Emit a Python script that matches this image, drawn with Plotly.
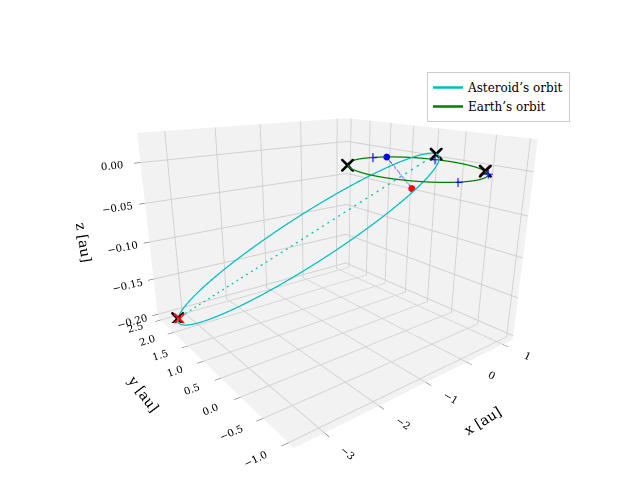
import numpy as np
import plotly.graph_objects as go

# asteroid orbital elements (estimated)
a_ast = 2.15
e_ast = 0.85
inc_deg = 2.88
node_deg = -125.0
argp_deg = 90.0

# marker positions [au]
black_x = [0.26, -3.26, -0.72, 0.72]
black_y = [-0.18, 2.28, 0.70, -0.70]
black_z = [0.016, -0.2, 0.0, 0.0]
red_x = [-3.24, 0.74]
red_y = [2.26, -0.68]
red_z = [-0.2, 0.0]
plus_x = [0.2, 0.95, -0.35, 0.55]
plus_y = [0.98, 0.3, -0.94, -0.84]
plus_z = [0.0, 0.0, 0.0, 0.0]
blue_dot = [0.45, 0.89, 0.0]
red_dot = [-0.45, -0.3, -0.015]


def orbit_xyz(a, e, inc, node, argp, nu):
    r = a * (1 - e**2) / (1 + e * np.cos(nu))
    i, O, w = np.radians(inc), np.radians(node), np.radians(argp)
    u = w + nu
    x = r * (np.cos(O) * np.cos(u) - np.sin(O) * np.sin(u) * np.cos(i))
    y = r * (np.sin(O) * np.cos(u) + np.cos(O) * np.sin(u) * np.cos(i))
    z = r * np.sin(u) * np.sin(i)
    return x, y, z


nu = np.linspace(0, 2 * np.pi, 400)
ax, ay, az = orbit_xyz(a_ast, e_ast, inc_deg, node_deg, argp_deg, nu)
px, py, pz = orbit_xyz(a_ast, e_ast, inc_deg, node_deg, argp_deg, np.array([0.0, np.pi]))

fig = go.Figure()
fig.add_trace(go.Scatter3d(x=ax, y=ay, z=az, mode="lines", line=dict(color="#00bfbf", width=2.5),
                           name="Asteroid’s orbit"))
fig.add_trace(go.Scatter3d(x=np.cos(nu), y=np.sin(nu), z=0 * nu, mode="lines",
                           line=dict(color="green", width=2.5), name="Earth’s orbit"))
fig.add_trace(go.Scatter3d(x=px, y=py, z=pz, mode="lines", line=dict(color="#00bfbf", width=2.5, dash="dash"),
                           showlegend=False))
fig.add_trace(go.Scatter3d(x=[blue_dot[0], red_dot[0]], y=[blue_dot[1], red_dot[1]], z=[blue_dot[2], red_dot[2]],
                           mode="lines", line=dict(color="blue", width=2.5, dash="dash"), showlegend=False))
fig.add_trace(go.Scatter3d(x=red_x, y=red_y, z=red_z, mode="markers",
                           marker=dict(symbol="x", color="red", size=2.5), showlegend=False))
fig.add_trace(go.Scatter3d(x=black_x, y=black_y, z=black_z, mode="markers",
                           marker=dict(symbol="x", color="black", size=3), showlegend=False))
fig.add_trace(go.Scatter3d(x=plus_x, y=plus_y, z=plus_z, mode="markers",
                           marker=dict(symbol="cross", color="blue", size=5), showlegend=False))
fig.add_trace(go.Scatter3d(x=[blue_dot[0], red_dot[0]], y=[blue_dot[1], red_dot[1]], z=[blue_dot[2], red_dot[2]],
                           mode="markers", marker=dict(color=["blue", "red"], size=4), showlegend=False))

axis_style = dict(backgroundcolor="#f2f2f2", gridcolor="#d0d0d0", showbackground=True,
                  zeroline=False, ticks="outside", tickfont=dict(size=11), title_font=dict(size=17))
fig.update_layout(
    width=640, height=480, paper_bgcolor="white",
    font=dict(family="DejaVu Serif", color="black"),
    margin=dict(l=20, r=20, t=20, b=20),
    legend=dict(x=0.665, y=0.9, bordercolor="#cccccc", borderwidth=1, font=dict(size=12)),
    scene=dict(
        xaxis=dict(axis_style, range=[-3.5, 1.3], tickvals=[-3, -2, -1, 0, 1],
                   ticktext=["−3", "−2", "−1", "0", "1"], title="x [au]"),
        yaxis=dict(axis_style, range=[-1.1, 2.6], tickvals=[-1, -0.5, 0, 0.5, 1, 1.5, 2, 2.5],
                   ticktext=["−1.0", "−0.5", "0.0", "0.5", "1.0", "1.5", "2.0", "2.5"], title="y [au]"),
        zaxis=dict(axis_style, range=[-0.205, 0.035], tickvals=[-0.2, -0.15, -0.1, -0.05, 0],
                   ticktext=["−0.20", "−0.15", "−0.10", "−0.05", "0.00"], title="z [au]"),
        aspectmode="manual", aspectratio=dict(x=1, y=1, z=0.75),
        camera=dict(eye=dict(x=-1.15, y=-1.5, z=0.6), center=dict(x=0, y=0, z=-0.04)),
    ),
)
fig.write_html("out.html")
